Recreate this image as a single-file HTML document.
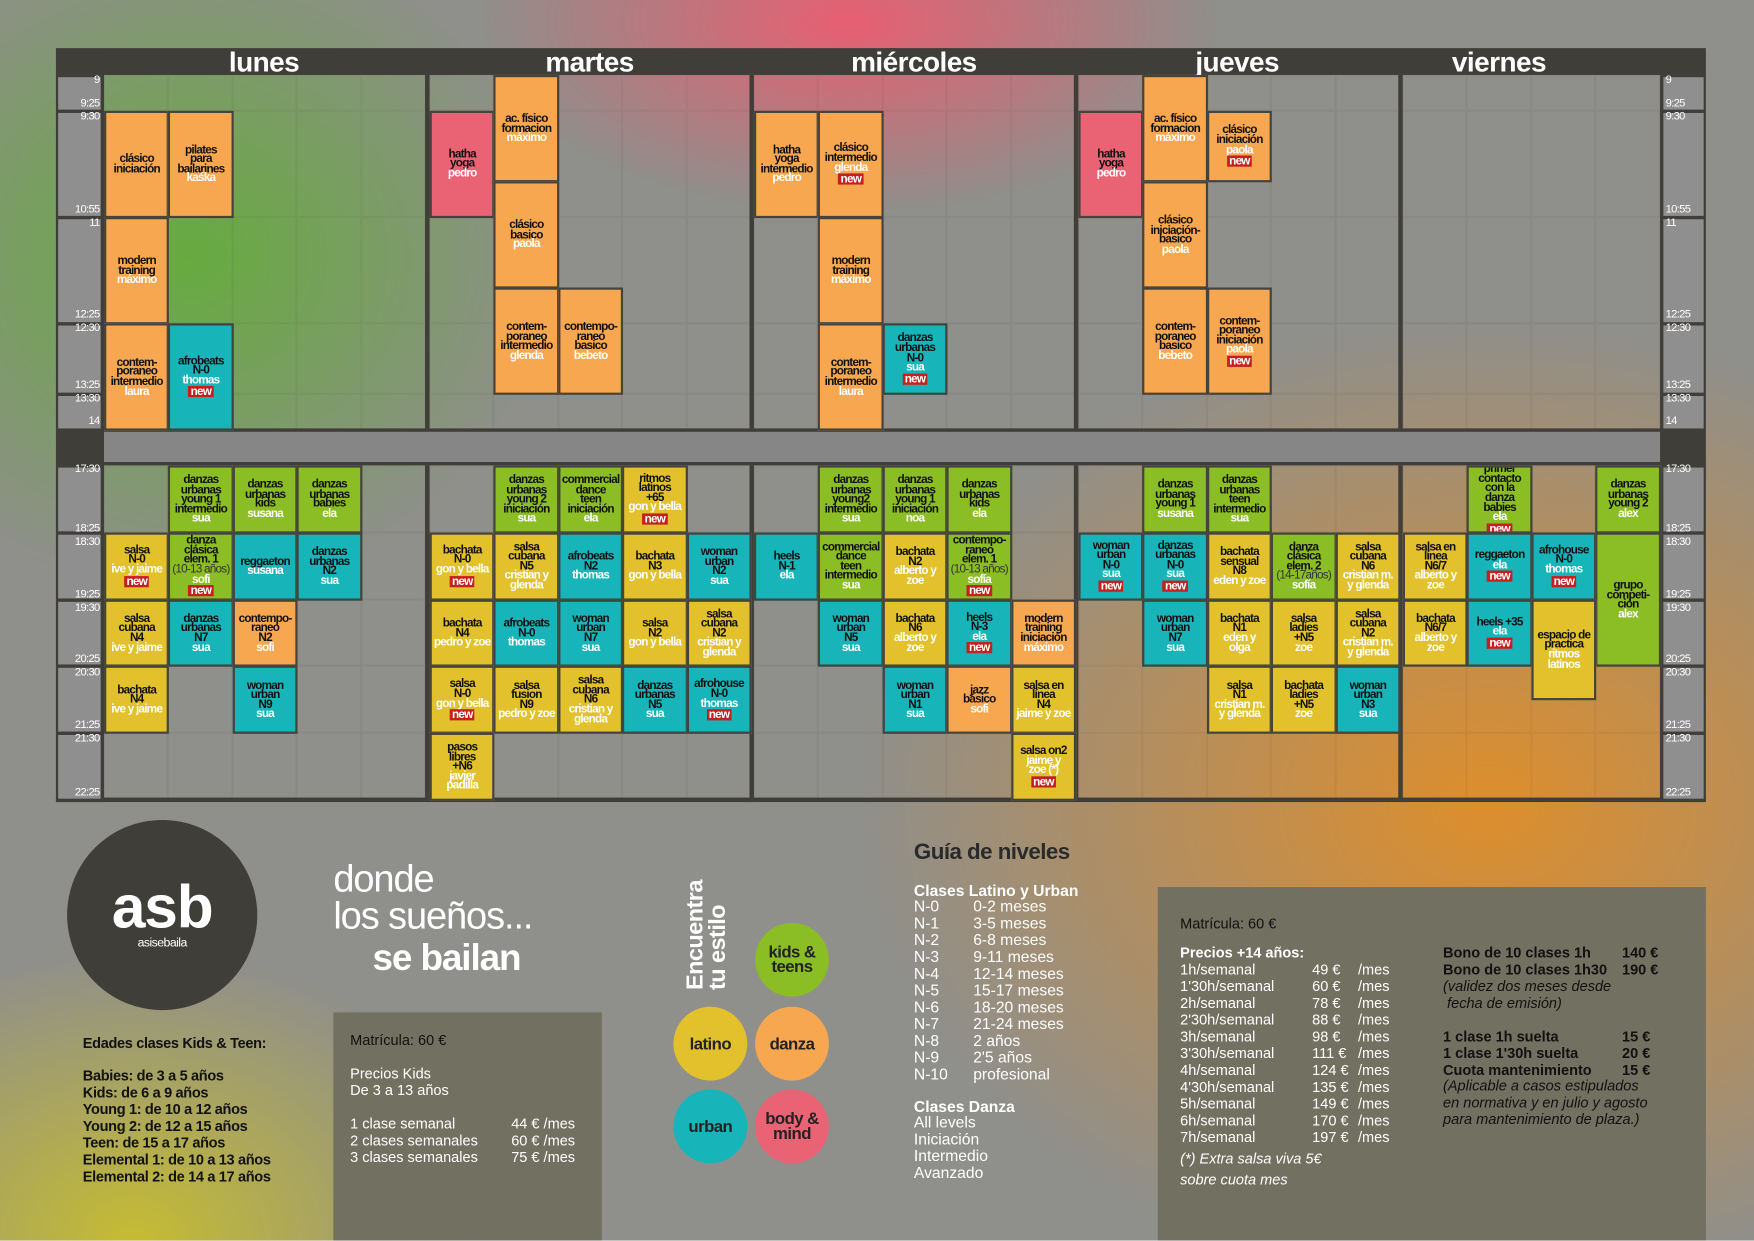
<!DOCTYPE html>
<html><head><meta charset="utf-8">
<style>
html,body{margin:0;padding:0;width:1754px;height:1240px;overflow:hidden;}
#s{position:absolute;left:0;top:0;width:1568px;height:1109px;transform:scale(1.11862);transform-origin:0 0;font-family:"Liberation Sans",sans-serif;
background:
radial-gradient(ellipse 330px 300px at 170px 230px, rgba(100,172,58,0.95), rgba(100,172,58,0) 100%),
radial-gradient(ellipse 330px 170px at 760px 20px, rgba(236,92,112,0.95), rgba(236,92,112,0) 100%),
radial-gradient(ellipse 560px 430px at 1330px 720px, rgba(226,142,38,0.95), rgba(226,142,38,0) 100%),
radial-gradient(ellipse 330px 260px at 120px 1109px, rgba(200,190,45,0.95), rgba(200,190,45,0) 100%),
#8f8f8b;overflow:hidden;}
.a{position:absolute;box-sizing:border-box;}
.dk{background:#403e39;}
.tc{background:#8f8f8f;}
.tl{position:absolute;color:#fff;font-size:10px;letter-spacing:-0.6px;}
.day{position:absolute;top:43px;color:#fff;font-weight:bold;font-size:25px;letter-spacing:-0.5px;transform:translateX(-50%);line-height:26px;}
.cl{position:absolute;box-sizing:border-box;border:2px solid #45433e;display:flex;flex-direction:column;align-items:center;justify-content:center;text-align:center;font-weight:bold;font-size:10.5px;line-height:8.6px;letter-spacing:-0.7px;color:#111;overflow:hidden;}
.cl .t{color:#fff;}
.cl .g{color:#333;font-weight:normal;}
.cl .n{background:#c61f1f;color:#fff;padding:1px 2px 0;margin-top:1px;line-height:9px;}
.ec{position:absolute;box-sizing:border-box;border:1px solid rgba(60,58,52,0.06);}
.tx{position:absolute;white-space:pre;}
.circ{position:absolute;border-radius:50%;display:flex;align-items:center;justify-content:center;text-align:center;font-weight:bold;color:#222;font-size:15px;line-height:13px;letter-spacing:-0.5px;}
</style></head>
<body>
<div id="s">
  <div class="a dk" style="left:50px;top:43px;width:1475px;height:24px"></div>
  <div class="a dk" style="left:50px;top:67px;width:43px;height:650px"></div>
  <div class="a dk" style="left:1484px;top:67px;width:41px;height:650px"></div>
  <div class="a dk" style="left:380px;top:67px;width:4px;height:650px"></div>
  <div class="a dk" style="left:670px;top:67px;width:4px;height:650px"></div>
  <div class="a dk" style="left:960px;top:67px;width:4px;height:650px"></div>
  <div class="a dk" style="left:1250px;top:67px;width:4px;height:650px"></div>
  <div class="a dk" style="left:50px;top:713px;width:1475px;height:4px"></div>
  <div class="a" style="left:93px;top:383px;width:1391px;height:33px;background:#868686;border-top:3px solid #403e39;border-bottom:3px solid #403e39"></div>
  <div class="day" style="left:236px">lunes</div>
  <div class="day" style="left:527px">martes</div>
  <div class="day" style="left:817px">miércoles</div>
  <div class="day" style="left:1106px">jueves</div>
  <div class="day" style="left:1340px">viernes</div>
  <div id="grid"></div>

  <div class="circ" style="left:60px;top:733px;width:170px;height:170px;background:#403e39;flex-direction:column;color:#fff">
    <div style="font-size:54px;line-height:50px;letter-spacing:-1px">asb</div>
    <div style="font-size:11px;font-weight:normal;line-height:14px">asisebaila</div>
  </div>
  <div class="tx" style="left:74px;top:925px;font-size:13px;font-weight:bold;color:#111;letter-spacing:-0.3px">Edades clases Kids &amp; Teen:</div>
  <div class="tx" style="left:74px;top:954px;font-size:13px;font-weight:bold;color:#111;line-height:15px;letter-spacing:-0.3px">Babies: de 3 a 5 años
Kids: de 6 a 9 años
Young 1: de 10 a 12 años
Young 2: de 12 a 15 años
Teen: de 15 a 17 años
Elemental 1: de 10 a 13 años
Elemental 2: de 14 a 17 años</div>
  <div class="tx" style="left:298px;top:770px;font-size:34px;color:#fff;line-height:33px;letter-spacing:-1px">donde
los sueños...</div>
  <div class="tx" style="left:333px;top:837px;font-size:33px;font-weight:bold;color:#fff;letter-spacing:-1px">se bailan</div>
  <div class="a" style="left:298px;top:905px;width:240px;height:210px;background:#727060"></div>
  <div class="tx" style="left:313px;top:922px;font-size:13px;color:#111">Matrícula: 60 €</div>
  <div class="tx" style="left:313px;top:952px;font-size:13px;color:#fff;line-height:15px">Precios Kids
De 3 a 13 años</div>
  <div class="tx" style="left:313px;top:997px;font-size:13px;color:#fff;line-height:15px">1 clase semanal
2 clases semanales
3 clases semanales</div>
  <div class="tx" style="left:457px;top:997px;font-size:13px;color:#fff;line-height:15px">44 € /mes
60 € /mes
75 € /mes</div>
  <div class="tx" style="left:612px;top:885px;font-size:21px;font-weight:bold;color:#fff;line-height:20px;transform:rotate(-90deg);transform-origin:0 0;letter-spacing:-0.5px">Encuentra
tu estilo</div>
  <div class="circ" style="left:675px;top:825px;width:66px;height:66px;background:#8bbd24">kids &amp;<br>teens</div>
  <div class="circ" style="left:602px;top:900px;width:66px;height:66px;background:#e2c12c">latino</div>
  <div class="circ" style="left:675px;top:900px;width:66px;height:66px;background:#f6a74f">danza</div>
  <div class="circ" style="left:602px;top:974px;width:66px;height:66px;background:#17b5b9">urban</div>
  <div class="circ" style="left:675px;top:974px;width:66px;height:66px;background:#ea6375">body &amp;<br>mind</div>
  <div class="tx" style="left:817px;top:751px;font-size:20px;font-weight:bold;color:#2a2a2a;letter-spacing:-0.5px">Guía de niveles</div>
  <div class="tx" style="left:817px;top:788px;font-size:14px;font-weight:bold;color:#fff">Clases Latino y Urban</div>
  <div class="tx" style="left:817px;top:803px;font-size:14px;color:#fff;line-height:15px">N-0
N-1
N-2
N-3
N-4
N-5
N-6
N-7
N-8
N-9
N-10</div>
  <div class="tx" style="left:870px;top:803px;font-size:14px;color:#fff;line-height:15px">0-2 meses
3-5 meses
6-8 meses
9-11 meses
12-14 meses
15-17 meses
18-20 meses
21-24 meses
2 años
2'5 años
profesional</div>
  <div class="tx" style="left:817px;top:981px;font-size:14px;font-weight:bold;color:#fff">Clases Danza</div>
  <div class="tx" style="left:817px;top:996px;font-size:14px;color:#fff;line-height:15px">All levels
Iniciación
Intermedio
Avanzado</div>
  <div class="a" style="left:1035px;top:793px;width:490px;height:320px;background:#727060"></div>
  <div class="tx" style="left:1055px;top:818px;font-size:13px;color:#111">Matrícula: 60 €</div>
  <div class="tx" style="left:1055px;top:844px;font-size:13px;font-weight:bold;color:#fff">Precios +14 años:</div>
  <div class="tx" style="left:1055px;top:859px;font-size:13px;color:#fff;line-height:15px">1h/semanal
1'30h/semanal
2h/semanal
2'30h/semanal
3h/semanal
3'30h/semanal
4h/semanal
4'30h/semanal
5h/semanal
6h/semanal
7h/semanal</div>
  <div class="tx" style="left:1173px;top:859px;font-size:13px;color:#fff;line-height:15px">49 €
60 €
78 €
88 €
98 €
111 €
124 €
135 €
149 €
170 €
197 €</div>
  <div class="tx" style="left:1214px;top:859px;font-size:13px;color:#fff;line-height:15px">/mes
/mes
/mes
/mes
/mes
/mes
/mes
/mes
/mes
/mes
/mes</div>
  <div class="tx" style="left:1055px;top:1026px;font-size:13px;font-style:italic;color:#fff;line-height:19px">(*) Extra salsa viva 5€
sobre cuota mes</div>
  <div class="tx" style="left:1290px;top:844px;font-size:13px;font-weight:bold;color:#111;line-height:15px">Bono de 10 clases 1h
Bono de 10 clases 1h30</div>
  <div class="tx" style="left:1450px;top:844px;font-size:13px;font-weight:bold;color:#111;line-height:15px">140 €
190 €</div>
  <div class="tx" style="left:1290px;top:874px;font-size:13px;font-style:italic;color:#111;line-height:15px">(validez dos meses desde
 fecha de emisión)</div>
  <div class="tx" style="left:1290px;top:919px;font-size:13px;font-weight:bold;color:#111;line-height:15px">1 clase 1h suelta
1 clase 1'30h suelta
Cuota mantenimiento</div>
  <div class="tx" style="left:1450px;top:919px;font-size:13px;font-weight:bold;color:#111;line-height:15px">15 €
20 €
15 €</div>
  <div class="tx" style="left:1290px;top:963px;font-size:13px;font-style:italic;color:#111;line-height:15px">(Aplicable a casos estipulados
en normativa y en julio y agosto
para mantenimiento de plaza.)</div>
</div>
<script>
const dayX=[93,384,674,964,1254];
const dayCols=[5,5,5,5,4];
const CW=57.4;
const leftTimes=[["9",73],["9:25",94],["9:30",106],["10:55",189],["11",201],["12:25",283],["12:30",295],["13:25",346],["13:30",358],["14",378],
["17:30",421],["18:25",474],["18:30",486],["19:25",533],["19:30",545],["20:25",591],["20:30",603],["21:25",650],["21:30",662],["22:25",710]];
const morningBounds=[9,9.5,11,12.5,13.5,14];
const afternoonBounds=[17.5,18.5,19.5,20.5,21.5,22.5];
const COLORS={o:"#f6a74f",t:"#17b5b9",g:"#8bbd24",y:"#e2c12c",p:"#ea6375"};
// [day, col, startHour, endHour, color, title, teacher, isNew, grayNote]
const classes=[
[0,0,9.5,11,"o","clásico|iniciación","",0,""],
[0,1,9.5,11,"o","pilates|para|bailarines","kaśka",0,""],
[0,0,11,12.5,"o","modern|training","máximo",0,""],
[0,0,12.5,14,"o","contem-|poraneo|intermedio","laura",0,""],
[0,1,12.5,14,"t","afrobeats|N-0","thomas",1,""],
[1,0,9.5,11,"p","hatha|yoga","pedro",0,""],
[1,1,9,10.5,"o","ac. físico|formacion","máximo",0,""],
[1,1,10.5,12,"o","clásico|basico","paola",0,""],
[1,1,12,13.5,"o","contem-|poraneo|intermedio","glenda",0,""],
[1,2,12,13.5,"o","contempo-|raneo|basico","bebeto",0,""],
[2,0,9.5,11,"o","hatha|yoga|intermedio","pedro",0,""],
[2,1,9.5,11,"o","clásico|intermedio","glenda",1,""],
[2,1,11,12.5,"o","modern|training","máximo",0,""],
[2,1,12.5,14,"o","contem-|poraneo|intermedio","laura",0,""],
[2,2,12.5,13.5,"t","danzas|urbanas|N-0","sua",1,""],
[3,0,9.5,11,"p","hatha|yoga","pedro",0,""],
[3,1,9,10.5,"o","ac. físico|formacion","máximo",0,""],
[3,2,9.5,10.5,"o","clásico|iniciación","paola",1,""],
[3,1,10.5,12,"o","clásico|iniciación-|basico","paola",0,""],
[3,1,12,13.5,"o","contem-|poraneo|basico","bebeto",0,""],
[3,2,12,13.5,"o","contem-|poraneo|iniciación","paola",1,""],
[0,1,17.5,18.5,"g","danzas|urbanas|young 1|intermedio","sua",0,""],
[0,2,17.5,18.5,"g","danzas|urbanas|kids","susana",0,""],
[0,3,17.5,18.5,"g","danzas|urbanas|babies","ela",0,""],
[0,0,18.5,19.5,"y","salsa|N-0","ive y jaime",1,""],
[0,1,18.5,19.5,"g","danza|clásica|elem. 1","sofi",1,"(10-13 años)"],
[0,2,18.5,19.5,"t","reggaeton","susana",0,""],
[0,3,18.5,19.5,"t","danzas|urbanas|N2","sua",0,""],
[0,0,19.5,20.5,"y","salsa|cubana|N4","ive y jaime",0,""],
[0,1,19.5,20.5,"t","danzas|urbanas|N7","sua",0,""],
[0,2,19.5,20.5,"o","contempo-|raneo|N2","sofi",0,""],
[0,0,20.5,21.5,"y","bachata|N4","ive y jaime",0,""],
[0,2,20.5,21.5,"t","woman|urban|N9","sua",0,""],
[1,1,17.5,18.5,"g","danzas|urbanas|young 2|iniciación","sua",0,""],
[1,2,17.5,18.5,"g","commercial|dance|teen|iniciación","ela",0,""],
[1,3,17.5,18.5,"y","ritmos|latinos|+65","gon y bella",1,""],
[1,0,18.5,19.5,"y","bachata|N-0","gon y bella",1,""],
[1,1,18.5,19.5,"y","salsa|cubana|N5","cristian y|glenda",0,""],
[1,2,18.5,19.5,"t","afrobeats|N2","thomas",0,""],
[1,3,18.5,19.5,"y","bachata|N3","gon y bella",0,""],
[1,4,18.5,19.5,"t","woman|urban|N2","sua",0,""],
[1,0,19.5,20.5,"y","bachata|N4","pedro y zoe",0,""],
[1,1,19.5,20.5,"t","afrobeats|N-0","thomas",0,""],
[1,2,19.5,20.5,"t","woman|urban|N7","sua",0,""],
[1,3,19.5,20.5,"y","salsa|N2","gon y bella",0,""],
[1,4,19.5,20.5,"y","salsa|cubana|N2","cristian y|glenda",0,""],
[1,0,20.5,21.5,"y","salsa|N-0","gon y bella",1,""],
[1,1,20.5,21.5,"y","salsa|fusion|N9","pedro y zoe",0,""],
[1,2,20.5,21.5,"y","salsa|cubana|N6","cristian y|glenda",0,""],
[1,3,20.5,21.5,"t","danzas|urbanas|N5","sua",0,""],
[1,4,20.5,21.5,"t","afrohouse|N-0","thomas",1,""],
[1,0,21.5,22.5,"y","pasos|libres|+N6","javier|padilla",0,""],
[2,1,17.5,18.5,"g","danzas|urbanas|young2|intermedio","sua",0,""],
[2,2,17.5,18.5,"g","danzas|urbanas|young 1|iniciación","noa",0,""],
[2,3,17.5,18.5,"g","danzas|urbanas|kids","ela",0,""],
[2,0,18.5,19.5,"t","heels|N-1","ela",0,""],
[2,1,18.5,19.5,"g","commercial|dance|teen|intermedio","sua",0,""],
[2,2,18.5,19.5,"y","bachata|N2","alberto y|zoe",0,""],
[2,3,18.5,19.5,"g","contempo-|raneo|elem. 1","sofía",1,"(10-13 años)"],
[2,1,19.5,20.5,"t","woman|urban|N5","sua",0,""],
[2,2,19.5,20.5,"y","bachata|N6","alberto y|zoe",0,""],
[2,3,19.5,20.5,"t","heels|N-3","ela",1,""],
[2,4,19.5,20.5,"o","modern|training|iniciación","máximo",0,""],
[2,2,20.5,21.5,"t","woman|urban|N1","sua",0,""],
[2,3,20.5,21.5,"o","jazz|básico","sofi",0,""],
[2,4,20.5,21.5,"y","salsa en|línea|N4","jaime y zoe",0,""],
[2,4,21.5,22.5,"y","salsa on2","jaime y|zoe (*)",1,""],
[3,1,17.5,18.5,"g","danzas|urbanas|young 1","susana",0,""],
[3,2,17.5,18.5,"g","danzas|urbanas|teen|intermedio","sua",0,""],
[3,0,18.5,19.5,"t","woman|urban|N-0","sua",1,""],
[3,1,18.5,19.5,"t","danzas|urbanas|N-0","sua",1,""],
[3,2,18.5,19.5,"y","bachata|sensual|N8","eden y zoe",0,""],
[3,3,18.5,19.5,"g","danza|clásica|elem. 2","sofía",0,"(14-17años)"],
[3,4,18.5,19.5,"y","salsa|cubana|N6","cristian m.|y glenda",0,""],
[3,1,19.5,20.5,"t","woman|urban|N7","sua",0,""],
[3,2,19.5,20.5,"y","bachata|N1","eden y|olga",0,""],
[3,3,19.5,20.5,"y","salsa|ladies|+N5","zoe",0,""],
[3,4,19.5,20.5,"y","salsa|cubana|N2","cristian m.|y glenda",0,""],
[3,2,20.5,21.5,"y","salsa|N1","cristian m.|y glenda",0,""],
[3,3,20.5,21.5,"y","bachata|ladies|+N5","zoe",0,""],
[3,4,20.5,21.5,"t","woman|urban|N3","sua",0,""],
[4,1,17.5,18.5,"g","primer|contacto|con la|danza|babies","ela",1,""],
[4,3,17.5,18.5,"g","danzas|urbanas|young 2","alex",0,""],
[4,0,18.5,19.5,"y","salsa en|línea|N6/7","alberto y|zoe",0,""],
[4,1,18.5,19.5,"t","reggaeton","ela",1,""],
[4,2,18.5,19.5,"t","afrohouse|N-0","thomas",1,""],
[4,3,18.5,20.5,"g","grupo|competi-|ción","alex",0,""],
[4,0,19.5,20.5,"y","bachata|N6/7","alberto y|zoe",0,""],
[4,1,19.5,20.5,"t","heels +35","ela",1,""],
[4,2,19.5,21,"y","espacio de|practica","ritmos|latinos",0,""]
];
function yT(h){return h<=14?67+(h-9)*63.4:416+(h-17.5)*59.8;}
const g=document.getElementById('grid');
function timeCells(bounds,side){
  for(let i=0;i<bounds.length-1;i++){
    const d=document.createElement('div');
    
    
    d.className='a tc';
    const y1=yT(bounds[i])+2,y2=yT(bounds[i+1])-1;
    d.style.left=(side?1487:52)+'px';d.style.width=(side?36:38)+'px';
    d.style.top=y1+'px';d.style.height=(y2-y1)+'px';
    g.appendChild(d);
  }
}
timeCells(morningBounds,0);timeCells(afternoonBounds,0);
timeCells(morningBounds,1);timeCells(afternoonBounds,1);
leftTimes.forEach(t=>{
  const a=document.createElement('div');
  
  
  a.className='tl';a.textContent=t[0];a.style.top=(t[1]-7)+'px';a.style.right=(1568-89)+'px';
  g.appendChild(a);
  const b=document.createElement('div');
  
  
  b.className='tl';b.textContent=t[0];b.style.top=(t[1]-7)+'px';b.style.left='1489px';
  g.appendChild(b);
});
for(let d=0;d<5;d++){
  for(let c=0;c<dayCols[d];c++){
    [morningBounds,afternoonBounds].forEach(B=>{
      for(let i=0;i<B.length-1;i++){
        const e=document.createElement('div');
        
        
        e.className='ec';
        const y1=yT(B[i]),y2=yT(B[i+1]);
        e.style.left=(dayX[d]+c*CW)+'px';e.style.width=CW+'px';
        e.style.top=y1+'px';e.style.height=(y2-y1)+'px';
        g.appendChild(e);
      }
    });
  }
}
classes.forEach(k=>{
  const [d,c,s,e,col,title,teacher,isNew,note]=k;
  const el=document.createElement('div');
  
  
  el.className='cl';
  const y1=yT(s),y2=yT(e);
  el.style.left=(dayX[d]+c*CW)+'px';el.style.width=(CW+1)+'px';
  el.style.top=y1+'px';el.style.height=(y2-y1+1)+'px';
  el.style.background=COLORS[col];
  let h=title.split('|').map(x=>'<div>'+x+'</div>').join('');
  if(note)h+='<div class="g">'+note+'</div>';
  if(teacher)h+=teacher.split('|').map(x=>'<div class="t">'+x+'</div>').join('');
  if(isNew)h+='<div class="n">new</div>';
  el.innerHTML=h;
  g.appendChild(el);
});
</script>
</body></html>
